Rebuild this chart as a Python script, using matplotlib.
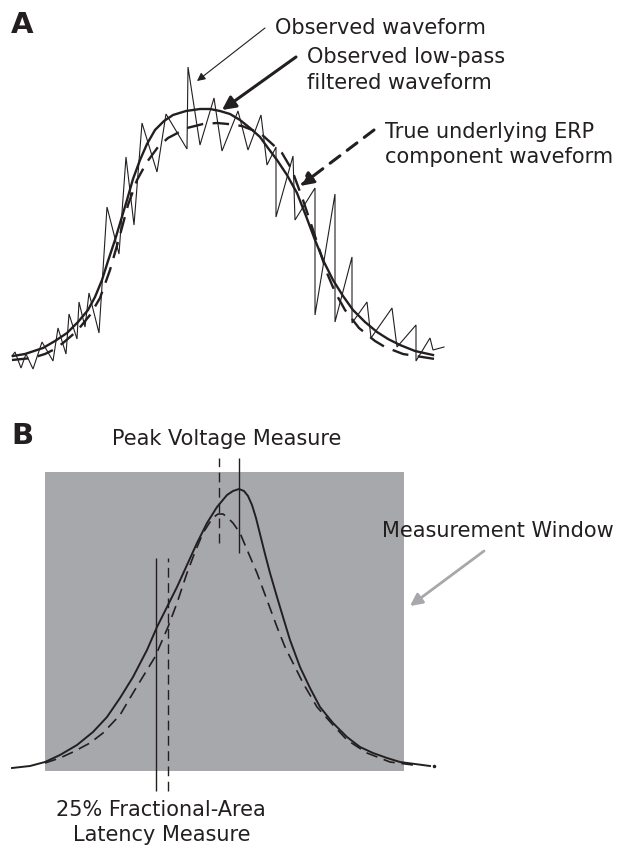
import matplotlib
matplotlib.use('Agg')
import matplotlib.pyplot as plt
from matplotlib.patches import Rectangle

plt.rcParams['font.family'] = ['DejaVu Sans']

ink = '#231f20'
window_grey = '#a7a8ab'

# ---- panel A: noisy observed, low-pass filtered and true waveform (arbitrary units)
obs_t = [12, 15, 21, 26, 33, 42, 53, 58, 66, 69, 77, 79, 85, 89, 99, 107, 119, 126,
         134, 142, 157, 166, 187, 188, 200, 214, 222, 238, 248, 261, 267, 276, 276,
         293, 295, 315, 315, 335, 335, 352, 352, 367, 371, 392, 397, 416, 416, 430,
         433, 444]
obs_amp = [4, 8, -8, 6, -9, 18, -1, 32, 6, 46, 21, 58, 33, 67, 27, 153, 106, 203,
           135, 237, 188, 246, 211, 293, 215, 262, 209, 249, 210, 245, 195, 213, 143,
           204, 140, 172, 45, 166, 38, 103, 37, 58, 22, 52, 13, 35, -1, 22,
           10, 13]

filt_t = [13, 25, 43, 55, 67, 78, 88, 95, 102, 108, 115, 121, 127, 133, 140, 147,
          155, 164, 173, 186, 200, 210, 220, 230, 240, 250, 260, 268, 277, 287, 297,
          306, 315, 324, 333, 343, 353, 365, 377, 388, 400, 415, 433]
filt_amp = [4, 6, 12, 19, 27, 38, 50, 63, 80, 99, 120, 140, 160, 181, 200, 216,
            230, 239, 245, 249, 251, 251, 249, 246, 240, 232, 223, 212, 200, 185, 167,
            144, 120, 98, 80, 64, 50, 38, 28, 21, 15, 9, 5]

true_t = [12, 32, 45, 55, 63, 77, 90, 100, 110, 120, 128, 137, 147, 158, 168, 187,
          203, 217, 228, 242, 260, 270, 282, 292, 303, 313, 327, 335, 345, 359, 375,
          385, 403, 435]
true_amp = [0, 2, 6, 11, 17, 29, 45, 62, 90, 125, 155, 180, 198, 213, 222, 232,
            236, 237, 236, 234, 227, 218, 207, 190, 160, 130, 87, 68, 50, 32, 19,
            13, 6, 1]

# ---- panel B: two components, measurement window and latency markers
compB_t = [12, 30, 45, 60, 77, 93, 107, 120, 133, 147, 157, 167, 177, 187, 197, 207,
           217, 227, 233, 239, 244, 248, 252, 256, 260, 265, 270, 277, 283, 290, 300,
           310, 320, 333, 347, 360, 373, 387, 400, 415, 430]
compB_amp = [0, 2, 6, 13, 23, 36, 51, 70, 91, 118, 141, 161, 181, 203, 225, 245,
             261, 273, 277, 279, 277, 272, 263, 250, 234, 214, 195, 171, 151, 128, 101,
             80, 61, 45, 31, 21, 15, 10, 6, 4, 2]

compB2_t = [45, 60, 73, 90, 103, 120, 133, 147, 155, 168, 177, 187, 195, 203, 210,
            214, 218, 223, 227, 233, 240, 248, 257, 267, 277, 285, 293, 303, 317, 333,
            347, 367, 390, 413]
compB2_amp = [5, 10, 16, 25, 35, 53, 75, 98, 111, 141, 165, 195, 216, 235, 246,
              251, 254, 254, 251, 245, 235, 216, 195, 168, 141, 121, 105, 85, 61, 43,
              28, 15, 6, 3]

window_start, window_end = 45, 404
window_low, window_high = -3, 296

peak_lat = [239, 219]          # solid, dashed
peak_marker = [(215, 310), (225, 310)]
frac_lat = [156, 168]          # solid, dashed
frac_marker = (-23, 210)

fig = plt.figure(figsize=(6.17, 8.46), dpi=100)

# panel A occupies the top 400 px
axA = fig.add_axes([0, 446 / 846, 1, 400 / 846])
axA.set_xlim(0, 617)
axA.set_ylim(-40, 360)
axA.axis('off')

axA.plot(obs_t, obs_amp, color=ink, lw=0.8, solid_joinstyle='miter')
axA.plot(filt_t, filt_amp, color=ink, lw=1.7)
axA.plot(true_t, true_amp, color=ink, lw=1.7, dashes=(7, 4))

axA.text(11, 327, 'A', fontsize=21, fontweight='bold', color=ink, va='baseline')

axA.text(275, 326, 'Observed waveform', fontsize=15, color=ink, va='baseline')
axA.annotate('', xy=(197, 279), xytext=(265, 332),
             arrowprops=dict(arrowstyle='-|>', color=ink, lw=0.8,
                             mutation_scale=12, shrinkA=0, shrinkB=0))

axA.text(307, 297, 'Observed low-pass', fontsize=15, color=ink, va='baseline')
axA.text(307, 271, 'filtered waveform', fontsize=15, color=ink, va='baseline')
axA.annotate('', xy=(222, 250), xytext=(296, 303),
             arrowprops=dict(arrowstyle='-|>', color=ink, lw=2.2,
                             mutation_scale=20, shrinkA=0, shrinkB=0))

axA.text(385, 222, 'True underlying ERP', fontsize=15, color=ink, va='baseline')
axA.text(385, 197, 'component waveform', fontsize=15, color=ink, va='baseline')
axA.annotate('', xy=(300, 174), xytext=(374, 230),
             arrowprops=dict(arrowstyle='-|>', color=ink, lw=2.2, ls=(0, (4, 3)),
                             mutation_scale=20, shrinkA=0, shrinkB=0))

# panel B occupies the bottom 446 px
axB = fig.add_axes([0, 0, 1, 446 / 846])
axB.set_xlim(0, 617)
axB.set_ylim(-78, 368)
axB.axis('off')

axB.add_patch(Rectangle((window_start, window_low), window_end - window_start,
                        window_high - window_low, facecolor=window_grey,
                        edgecolor='none', zorder=0))

axB.plot(compB_t, compB_amp, color=ink, lw=1.4)
axB.plot(compB2_t, compB2_amp, color=ink, lw=1.2, dashes=(7, 4))
axB.plot([434], [2], marker='o', ms=1.5, color=ink)

axB.vlines(peak_lat[0], peak_marker[0][0], peak_marker[0][1], color=ink, lw=1.0)
axB.vlines(peak_lat[1], peak_marker[1][0], peak_marker[1][1], color=ink, lw=1.0,
           linestyles=(0, (7, 4)))
axB.vlines(frac_lat[0], frac_marker[0], frac_marker[1], color=ink, lw=1.0)
axB.vlines(frac_lat[1], frac_marker[0], frac_marker[1], color=ink, lw=1.0,
           linestyles=(0, (7, 4)))

axB.text(11, 324, 'B', fontsize=21, fontweight='bold', color=ink, va='baseline')
axB.text(227, 323, 'Peak Voltage Measure', fontsize=15, color=ink,
         ha='center', va='baseline')
axB.text(382, 231, 'Measurement Window', fontsize=15, color=ink, va='baseline')
axB.annotate('', xy=(410, 162), xytext=(484, 217),
             arrowprops=dict(arrowstyle='-|>', color=window_grey, lw=2.0,
                             mutation_scale=18, shrinkA=0, shrinkB=0))
axB.text(161, -48, '25% Fractional-Area', fontsize=15, color=ink,
         ha='center', va='baseline')
axB.text(162, -73, 'Latency Measure', fontsize=15, color=ink,
         ha='center', va='baseline')

plt.savefig('out.png', dpi=100)
